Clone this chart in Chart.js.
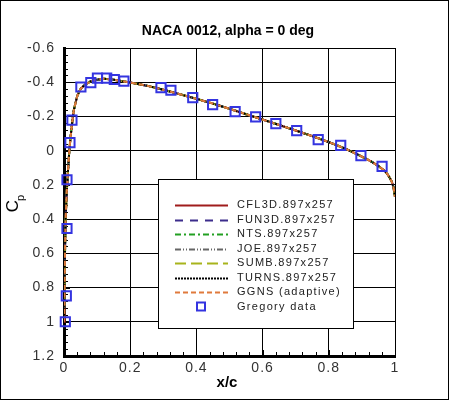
<!DOCTYPE html>
<html>
<head>
<meta charset="utf-8">
<script src="https://cdn.jsdelivr.net/npm/chart.js@4/dist/chart.umd.min.js"></script>
<style>
  html, body { margin: 0; padding: 0; background: #fff; }
  #wrap { width: 450px; height: 401px; }
</style>
</head>
<body>
<div id="wrap"><canvas id="cpChart" width="450" height="401"></canvas></div>
<script>
// Surface pressure, NACA 0012 at alpha = 0 (all CFD codes lie on the same curve)
var curveX  = [0, 0.001, 0.002, 0.003, 0.005, 0.008, 0.012, 0.016, 0.02, 0.025, 0.03, 0.04, 0.05, 0.06, 0.08,
               0.1, 0.12, 0.15, 0.18, 0.2, 0.25, 0.3, 0.35, 0.4, 0.45, 0.5, 0.55, 0.6, 0.65, 0.7, 0.75,
               0.8, 0.85, 0.9, 0.93, 0.95, 0.97, 0.98, 0.99, 0.995, 1.0];
var curveCp = [1.0, 0.9, 0.75, 0.6, 0.4, 0.25, 0.12, 0.0, -0.08, -0.17, -0.24, -0.32, -0.36, -0.38, -0.405,
               -0.415, -0.42, -0.415, -0.405, -0.398, -0.38, -0.356, -0.33, -0.303, -0.275, -0.245, -0.213, -0.182, -0.15, -0.118, -0.085,
               -0.05, -0.012, 0.035, 0.065, 0.09, 0.12, 0.145, 0.18, 0.21, 0.27];

// Gregory experimental data
var gregoryX  = [0.004, 0.007, 0.009, 0.009, 0.018, 0.024, 0.051, 0.081, 0.101, 0.129, 0.152, 0.181,
                 0.293, 0.323, 0.389, 0.449, 0.517, 0.579, 0.640, 0.703, 0.768, 0.836, 0.897, 0.961];
var gregoryCp = [1.0, 0.849, 0.455, 0.170, -0.047, -0.178, -0.372, -0.398, -0.424, -0.424, -0.416, -0.406,
                 -0.368, -0.353, -0.310, -0.269, -0.228, -0.197, -0.158, -0.117, -0.064, -0.031, 0.029, 0.092];

var seriesNames  = ['CFL3D.897x257', 'FUN3D.897x257', 'NTS.897x257', 'JOE.897x257',
                    'SUMB.897x257', 'TURNS.897x257', 'GGNS (adaptive)'];
var seriesColors = ['#a01c1c', '#3c2d8c', '#22a022', '#666666', '#a8b41c', '#000000', '#e07a3c'];
var seriesDashes = [[], [8, 7], [6, 3, 2, 3], [6, 2, 1, 2, 1, 2], [11, 5], [2, 1], [5, 3]];
var gregoryName  = 'Gregory data';

var xTickLabels = ['0', '0.2', '0.4', '0.6', '0.8', '1'];
var yTickLabels = ['-0.6', '-0.4', '-0.2', '0', '0.2', '0.4', '0.6', '0.8', '1', '1.2'];

function toPoints(xs, ys) {
    var pts = [];
    for (var i = 0; i < xs.length; i++) pts.push({ x: xs[i], y: ys[i] });
    return pts;
}

var datasets = [];
var curvePts = toPoints(curveX, curveCp);
for (var i = 0; i < seriesNames.length; i++) {
    datasets.push({
        label: seriesNames[i],
        data: curvePts,
        showLine: true,
        borderColor: seriesColors[i],
        borderDash: seriesDashes[i],
        borderWidth: 2,
        pointRadius: 0,
        fill: false,
        order: seriesNames.length - i   // later codes drawn on top
    });
}
datasets.push({
    label: gregoryName,
    data: toPoints(gregoryX, gregoryCp),
    showLine: false,
    pointStyle: 'rect',
    pointRadius: 6.5,
    pointBorderWidth: 2,
    pointBorderColor: '#3434e0',
    pointBackgroundColor: 'rgba(0,0,0,0)',
    clip: false,
    order: 0
});

// Frame, inward tick marks, legend box and axis titles
var decorPlugin = {
    id: 'decor',
    beforeDraw: function (chart) {
        chart.ctx.letterSpacing = '1px';
    },
    beforeDatasetsDraw: function (chart) {
        var ctx = chart.ctx, xs = chart.scales.x, ys = chart.scales.y, a = chart.chartArea;
        ctx.save();
        ctx.strokeStyle = '#000';
        ctx.lineWidth = 1;
        // minor/major ticks every 0.04
        for (var k = 0; k <= 25; k++) {
            var px = Math.round(xs.getPixelForValue(k * 0.04)) + 0.5;
            var len = (k % 5 === 0) ? 6 : 4;
            ctx.beginPath();
            ctx.moveTo(px, a.bottom);
            ctx.lineTo(px, a.bottom - len);
            ctx.stroke();
        }
        for (var m = 0; m <= 45; m++) {
            var py = Math.round(ys.getPixelForValue(-0.6 + m * 0.04)) + 0.5;
            var l2 = (m % 5 === 0) ? 6 : 4;
            ctx.beginPath();
            ctx.moveTo(a.left, py);
            ctx.lineTo(a.left + l2, py);
            ctx.stroke();
        }
        ctx.restore();
    },
    afterDatasetsDraw: function (chart) {
        var ctx = chart.ctx;
        ctx.save();
        // legend box
        ctx.fillStyle = '#fff';
        ctx.fillRect(158, 179, 195, 149);
        ctx.strokeStyle = '#000';
        ctx.lineWidth = 1;
        ctx.strokeRect(158.5, 179.5, 195, 149);
        ctx.font = '11px "Liberation Sans", Arial, sans-serif';
        ctx.letterSpacing = '1.3px';
        ctx.textBaseline = 'middle';
        ctx.textAlign = 'left';
        var ds = chart.data.datasets;
        for (var i = 0; i < ds.length; i++) {
            var y = 205 + i * 14.5;
            if (ds[i].showLine) {
                ctx.strokeStyle = ds[i].borderColor;
                ctx.lineWidth = 2;
                ctx.setLineDash(ds[i].borderDash);
                ctx.beginPath();
                ctx.moveTo(175, Math.round(y) + 0.5);
                ctx.lineTo(228, Math.round(y) + 0.5);
                ctx.stroke();
                ctx.setLineDash([]);
            } else {
                ctx.strokeStyle = ds[i].pointBorderColor;
                ctx.lineWidth = 2;
                ctx.strokeRect(197, y - 4, 8, 8);
            }
            ctx.fillStyle = '#222';
            ctx.fillText(ds[i].label, 237, y);
        }
        ctx.restore();
    },
    afterDraw: function (chart) {
        var ctx = chart.ctx;
        ctx.save();
        ctx.letterSpacing = '0px';
        ctx.fillStyle = '#000';
        ctx.textAlign = 'center';
        ctx.textBaseline = 'middle';
        ctx.font = 'bold 14px "Liberation Sans", Arial, sans-serif';
        ctx.fillText('NACA 0012, alpha = 0 deg', 228, 31);
        ctx.font = 'bold 15px "Liberation Sans", Arial, sans-serif';
        ctx.fillText('x/c', 227, 383);
        // C_p rotated
        ctx.translate(13, 206);
        ctx.rotate(-Math.PI / 2);
        ctx.font = '17px "Liberation Sans", Arial, sans-serif';
        ctx.textAlign = 'center';
        ctx.fillText('C', 0, 0);
        ctx.font = '11px "Liberation Sans", Arial, sans-serif';
        ctx.fillText('p', 8, 8);
        ctx.restore();
        // outer frame
        ctx.save();
        ctx.strokeStyle = '#000';
        ctx.lineWidth = 1;
        ctx.strokeRect(0.5, 0.5, 448, 399);
        ctx.restore();
    }
};

function labelFor(list, start, step, v) {
    return list[Math.round((v - start) / step)];
}

var ctx = document.getElementById('cpChart').getContext('2d');
var cpChart = new Chart(ctx, {
    type: 'scatter',
    data: { datasets: datasets },
    options: {
        responsive: false,
        animation: false,
        devicePixelRatio: 1,
        layout: { padding: { top: 48, right: 55, left: 0, bottom: 0 } },
        plugins: {
            legend: { display: false },
            tooltip: { enabled: false },
            title: { display: false }
        },
        scales: {
            x: {
                type: 'linear',
                min: 0,
                max: 1,
                afterFit: function (s) { s.height = 45; },
                ticks: {
                    stepSize: 0.2,
                    padding: 4,
                    color: '#333',
                    font: { family: '"Liberation Sans", Arial, sans-serif', size: 14 },
                    callback: function (v) { return labelFor(xTickLabels, 0, 0.2, v); }
                },
                grid: { color: '#000', lineWidth: 1, drawTicks: false },
                border: { color: '#000', width: 3 }
            },
            y: {
                type: 'linear',
                min: -0.6,
                max: 1.2,
                reverse: true,
                afterFit: function (s) { s.width = 64; },
                ticks: {
                    stepSize: 0.2,
                    padding: 9,
                    color: '#333',
                    font: { family: '"Liberation Sans", Arial, sans-serif', size: 14 },
                    callback: function (v) { return labelFor(yTickLabels, -0.6, 0.2, v); }
                },
                grid: { color: '#000', lineWidth: 1, drawTicks: false },
                border: { color: '#000', width: 3 }
            }
        }
    },
    plugins: [decorPlugin]
});
</script>
</body>
</html>
